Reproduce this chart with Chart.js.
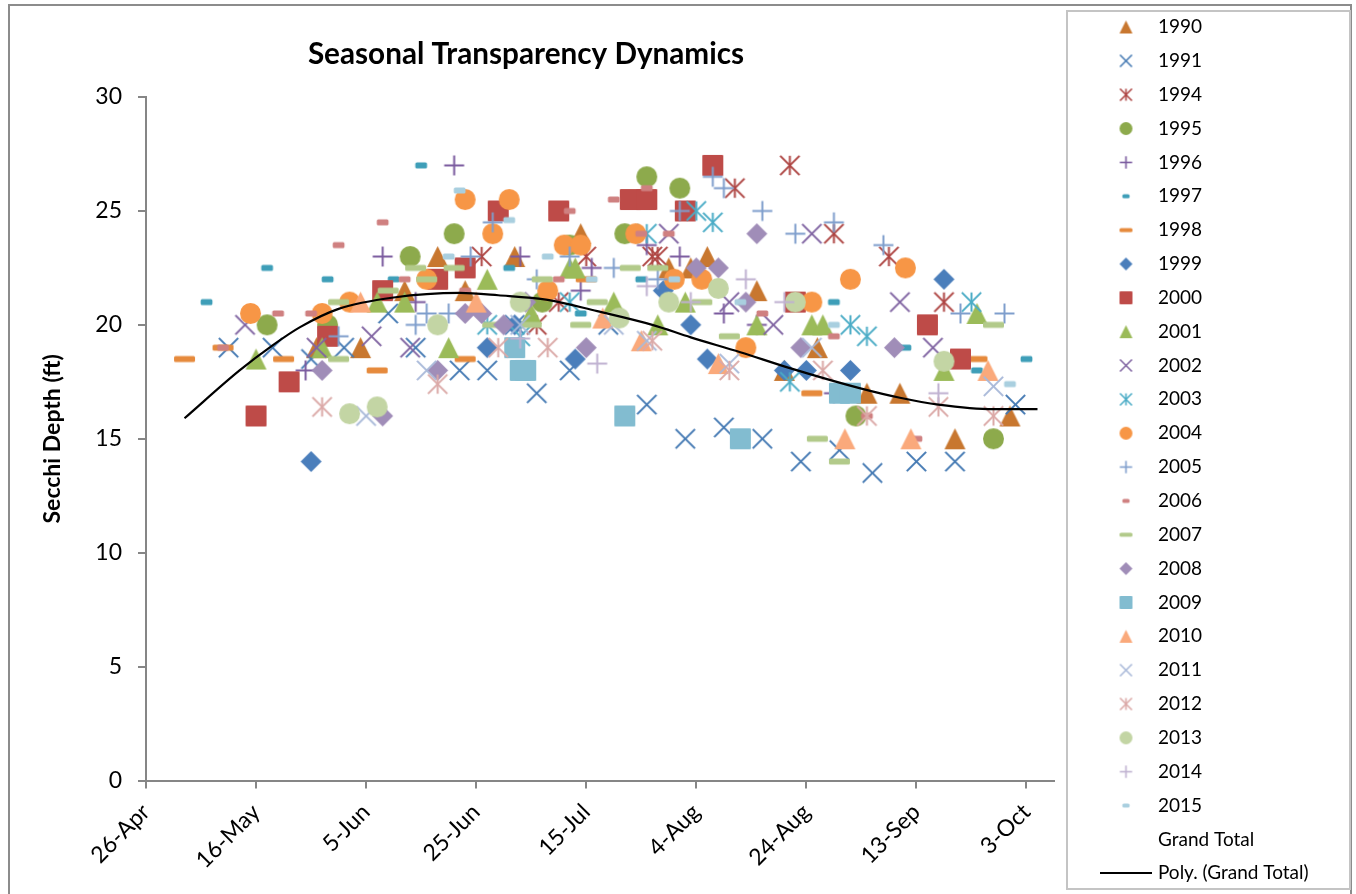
<!DOCTYPE html>
<html>
<head>
<meta charset="utf-8">
<style>html,body{margin:0;padding:0;background:#fff}#w{width:1356px;height:894px;position:relative}</style>
<script src="https://cdn.jsdelivr.net/npm/chart.js@4"></script>
</head>
<body>
<div id="w"><canvas id="c" width="1356" height="894"></canvas></div>
<script>
// x = days after 26-Apr, y = Secchi depth (ft)
const s1990=[[31,19],[39,19],[47,21.5],[53,23],[58,21.5],[67,23],[79,24],[95,22.5],[99,22.5],[102,23],[111,21.5],[116,18],[122,19],[131,17],[137,17],[147,15],[157,16]];
const s1991=[[15,19],[23,19],[30,18.5],[36,19],[44,20.5],[49,19],[57,18],[62,18],[67,20],[71,17],[77,18],[84,20],[91,16.5],[98,15],[105,15.5],[112,15],[119,14],[126,14.5],[132,13.5],[140,14],[147,14],[158,16.5]];
const s1994=[[61,23],[71,20],[75,21],[80,23],[92,23],[93,23],[107,26],[117,27],[125,24],[135,23],[145,21]];
const s1995=[[22,20],[33,20],[48,23],[56,24],[72,21],[77,23.5],[87,24],[91,26.5],[97,26],[129,16],[154,15]];
const s1996=[[29,18],[43,23],[49,21],[56,27],[68,23],[79,21.5],[81,22.5],[91,23.5],[97,23],[105,20.5],[111,20],[125,17]];
const s1997=[[11,21],[22,22.5],[33,22],[45,22],[50,27],[66,22.5],[79,20.5],[90,22],[125,21],[138,19],[151,18],[160,18.5]];
const s1998=[[7,18.5],[14,19],[25,18.5],[42,18],[58,18.5],[80,22],[121,17],[151,18.5]];
const s1999=[[30,14],[62,19],[67,20],[78,18.5],[94,21.5],[99,20],[102,18.5],[116,18],[120,18],[128,18],[145,22]];
const s2000=[[20,16],[26,17.5],[33,19.5],[43,21.5],[53,22],[58,22.5],[64,25],[75,25],[88,25.5],[91,25.5],[98,25],[103,27],[118,21],[142,20],[148,18.5]];
const s2001=[[20,18.5],[32,19],[42,21],[47,21],[55,19],[62,22],[70,20.5],[77,22.5],[78,22.5],[85,21],[93,20],[98,21],[111,20],[121,20],[123,20],[145,18],[151,20.5]];
const s2002=[[18,20],[31,19],[41,19.5],[48,19],[95,24],[106,21],[114,20],[121,24],[137,21],[143,19]];
const s2003=[[62,20],[68,19.5],[77,21],[91,24],[100,25],[103,24.5],[117,17.5],[128,20],[131,19.5],[150,21]];
const s2004=[[19,20.5],[32,20.5],[37,21],[51,22],[58,25.5],[63,24],[66,25.5],[73,21.5],[76,23.5],[79,23.5],[89,24],[96,22],[101,22],[109,19],[121,21],[128,22],[138,22.5]];
const s2005=[[35,19.5],[49,20],[51,20.5],[55,20.5],[59,23],[63,24.5],[71,22],[77,23],[85,22.5],[93,22],[97,25],[103,26.5],[105,26],[112,25],[118,24],[125,24.5],[134,23.5],[148,20.5],[156,20.5]];
const s2006=[[14,19],[24,20.5],[30,20.5],[35,23.5],[43,24.5],[47,22],[58,21.5],[75,22],[77,25],[85,25.5],[90,24],[91,26],[95,24],[112,20.5],[125,19.5],[131,16],[140,15]];
const s2007=[[35,18.5],[35,21],[44,21.5],[49,22.5],[51,22],[56,22.5],[63,20],[70,20],[72,22],[79,20],[82,21],[88,22.5],[93,22.5],[101,21],[106,19.5],[122,15],[126,14],[154,20]];
const s2008=[[32,18],[43,16],[53,18],[58,20.5],[61,20.5],[65,20],[69,21],[80,19],[100,22.5],[104,22.5],[109,21],[111,24],[119,19],[136,19]];
const s2009=[[67,19],[68,18],[69,18],[87,16],[108,15],[126,17],[128,17]];
const s2010=[[39,21],[60,21],[83,20.3],[90,19.3],[104,18.3],[127,15],[139,15],[153,18]];
const s2011=[[40,16],[51,18],[68,20],[85,20],[91,19.3],[106,18.3],[121,19],[154,17.3]];
const s2012=[[32,16.4],[53,17.4],[64,19],[73,19],[92,19.3],[106,18],[123,18],[131,16],[144,16.4],[154,16]];
const s2013=[[37,16.1],[42,16.4],[53,20],[68,21],[86,20.3],[95,21],[104,21.6],[118,21],[145,18.4]];
const s2014=[[68,19.4],[82,18.3],[91,21.7],[99,21],[109,22],[116,21],[144,17]];
const s2015=[[55,23],[57,25.9],[66,24.6],[73,23],[81,22],[96,22],[108,21],[125,20],[157,17.4]];
const grandTotal=[];
const polyTrend=[[7,15.9],[17,18],[23,19.1],[28,19.9],[35,20.7],[45,21.2],[57,21.4],[64,21.3],[73,21.1],[82,20.6],[92,20],[99,19.45],[108,18.8],[117,18.1],[130,17.2],[137,16.8],[144,16.5],[154,16.3],[162,16.3]];
const xTickLabels=['26-Apr','16-May','5-Jun','25-Jun','15-Jul','4-Aug','24-Aug','13-Sep','3-Oct'];
const seriesNames=['1990','1991','1994','1995','1996','1997','1998','1999','2000','2001','2002','2003','2004','2005','2006','2007','2008','2009','2010','2011','2012','2013','2014','2015'];
const seriesData=[s1990,s1991,s1994,s1995,s1996,s1997,s1998,s1999,s2000,s2001,s2002,s2003,s2004,s2005,s2006,s2007,s2008,s2009,s2010,s2011,s2012,s2013,s2014,s2015];
const seriesKinds=['tri','x','star','circle','plus','short','wide','diamond','square','tri','x','star','circle','plus','short','wide','diamond','square','tri','x','star','circle','plus','short'];
const seriesColors=['#C8772F','#4479B3','#AE4543','#8DAA4C','#7A5A9E','#3E9EB8','#E68A3C','#4A7EBB','#BE4B48','#9BBB59','#8064A2','#4BACC6','#F79646','#7F9ECC','#CF8080','#B2CA8A','#A08DB8','#82BCD0','#FAA97B','#A9B9D9','#DBA9A7','#C3D5A4','#BFB1D0','#A9CFDF'];

const FONT='Lato, Carlito, sans-serif';

function marker(kind,color,size){
  const c=document.createElement('canvas');
  const S=Math.ceil(size)+6;c.width=S;c.height=S;
  const g=c.getContext('2d');g.translate(S/2,S/2);
  const r=size/2;
  g.fillStyle=color;g.strokeStyle=color;g.lineCap='butt';
  g.lineWidth=size>15?2:1.6;
  const line=(a,b,d,e)=>{g.beginPath();g.moveTo(a,b);g.lineTo(d,e);g.stroke();};
  const rr=(w,h,q)=>{g.beginPath();g.roundRect(-w/2,-h/2,w,h,q);g.fill();};
  const dashH=size>15?5.8:4;
  switch(kind){
    case 'tri':g.beginPath();g.moveTo(0,-r);g.lineTo(r,r);g.lineTo(-r,r);g.closePath();g.fill();break;
    case 'x':{const q=r*0.92;line(-q,-q,q,q);line(-q,q,q,-q);break;}
    case 'star':{const q=r*0.92;line(-q,-q,q,q);line(-q,q,q,-q);line(0,-q,0,q);break;}
    case 'plus':{const q=r*0.95;line(-q,0,q,0);line(0,-q,0,q);break;}
    case 'circle':g.beginPath();g.arc(0,0,r,0,Math.PI*2);g.fill();break;
    case 'square':rr(size,size,1);break;
    case 'diamond':g.beginPath();g.moveTo(0,-r);g.lineTo(r,0);g.lineTo(0,r);g.lineTo(-r,0);g.closePath();g.fill();break;
    case 'wide':rr(size,dashH,1.5);break;
    case 'short':rr(size*0.56,dashH,1.5);break;
  }
  return c;
}
function lineKey(){const c=document.createElement('canvas');c.width=52;c.height=2;const g=c.getContext('2d');g.fillStyle='#000';g.fillRect(0,0,52,2);return c;}
function blankKey(){const c=document.createElement('canvas');c.width=1;c.height=1;return c;}

const toPts=a=>a.map(p=>({x:p[0],y:p[1]}));
const datasets=seriesNames.map((n,i)=>({
  label:n,data:toPts(seriesData[i]),showLine:false,
  pointStyle:marker(seriesKinds[i],seriesColors[i],21),pointRadius:10,pointHoverRadius:10,
  borderColor:seriesColors[i],backgroundColor:seriesColors[i],order:100-i,
  _key:marker(seriesKinds[i],seriesColors[i],13)
}));
datasets.push({label:'Grand Total',data:toPts(grandTotal),showLine:false,pointRadius:0,order:50,_key:blankKey()});
datasets.push({label:'Poly. (Grand Total)',data:toPts(polyTrend),showLine:true,pointRadius:0,borderColor:'#000',borderWidth:2.2,backgroundColor:'#000',cubicInterpolationMode:'monotone',order:0,_key:lineKey()});

const frame={id:'frame',
  beforeLayout(chart){
    const l=chart.legend;
    if(l&&!l._wrapped){const f=l.fit;l.fit=function(){f.call(this);this.width=302;};l._wrapped=true;}
  },
  afterLayout(chart){
    const l=chart.legend;
    l.left=1088.6;l.right=1356;l.top=2.65;l.bottom=1000;
    const t=chart.titleBlock;
    t.left=226;t.right=826;
  },
  beforeDraw(chart){
    const g=chart.ctx;g.save();
    g.strokeStyle='#8C8C8C';g.lineWidth=2;
    g.beginPath();g.moveTo(9,900);g.lineTo(9,5);g.lineTo(1351,5);g.lineTo(1351,900);g.stroke();
    g.fillStyle='#fff';g.strokeStyle='#C4C4C4';g.lineWidth=2;
    g.beginPath();g.rect(1067,11,283,878);g.fill();g.stroke();
    g.restore();
  }
};

new Chart(document.getElementById('c'),{
  type:'scatter',
  data:{datasets},
  plugins:[frame],
  options:{
    responsive:false,animation:false,
    layout:{padding:0},
    plugins:{
      tooltip:{enabled:false},
      title:{display:true,text:'Seasonal Transparency Dynamics',color:'#000',
        font:{family:FONT,size:29.7,weight:'bold',lineHeight:1.2},padding:{top:36.2,bottom:25.2}},
      legend:{display:true,position:'right',align:'start',
        labels:{usePointStyle:true,pointStyleWidth:45,padding:14.85,color:'#000',
          font:{family:FONT,size:19},
          generateLabels(chart){
            return chart.data.datasets.map((d,i)=>({text:d.label,pointStyle:d._key,datasetIndex:i,fontColor:'#000',lineWidth:0,strokeStyle:'transparent',fillStyle:'transparent',hidden:false}));
          }}}
    },
    scales:{
      x:{type:'linear',min:0,max:165,
        afterFit(s){s.height=113.5;},
        border:{display:true,color:'#868686',width:2},
        grid:{drawOnChartArea:false,drawTicks:true,tickLength:8,color:'#868686',lineWidth:2},
        ticks:{stepSize:20,includeBounds:false,minRotation:45,maxRotation:45,color:'#000',padding:10,
          font:{family:FONT,size:23},
          callback(v){return xTickLabels[v/20];}}
      },
      y:{type:'linear',min:0,max:30,
        afterFit(s){s.width=146;},
        border:{display:true,color:'#868686',width:2},
        grid:{drawOnChartArea:false,drawTicks:true,tickLength:8,color:'#868686',lineWidth:2},
        title:{display:true,text:'Secchi Depth (ft)',color:'#000',font:{family:FONT,size:23,weight:'bold',lineHeight:1.2},padding:{top:39,bottom:0}},
        ticks:{stepSize:5,color:'#000',padding:16,font:{family:FONT,size:23}}
      }
    }
  }
});
</script>
</body>
</html>
